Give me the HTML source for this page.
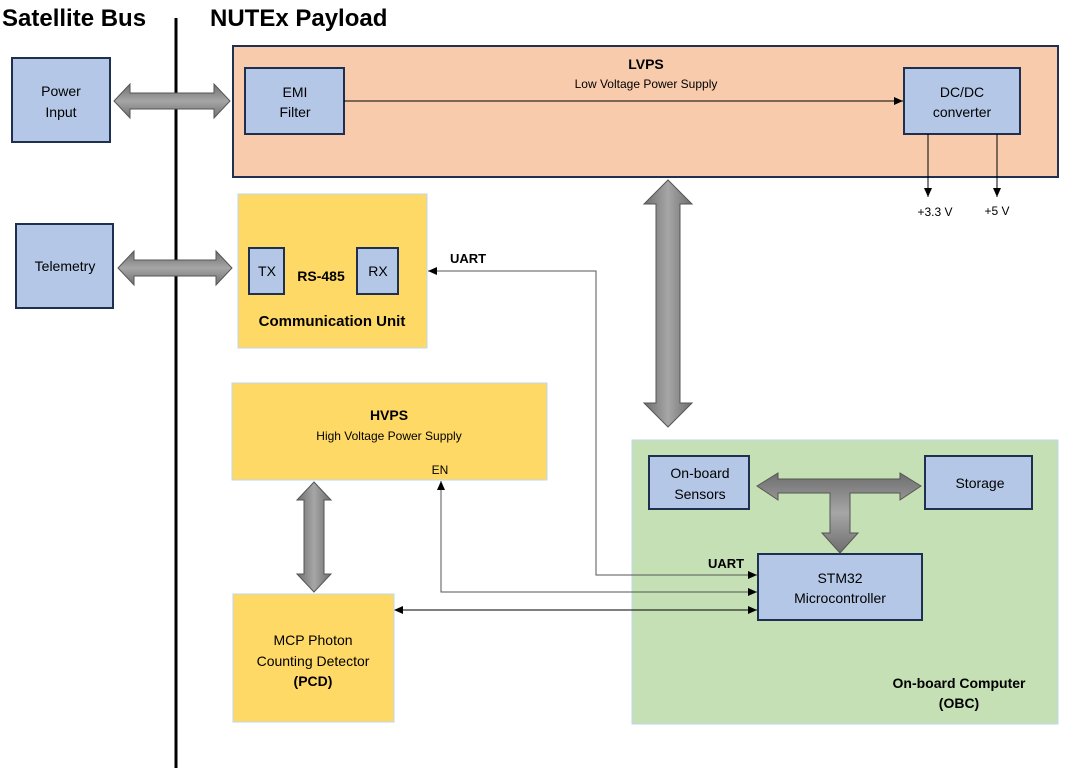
<!DOCTYPE html>
<html><head><meta charset="utf-8"><style>
body{margin:0;background:#fff}
svg{display:block}
text{font-family:"Liberation Sans",sans-serif;fill:#000}
</style></head><body>
<svg width="1070" height="768" viewBox="0 0 1070 768" xmlns="http://www.w3.org/2000/svg">
<defs>
<linearGradient id="gh" x1="0" y1="0" x2="0" y2="1"><stop offset="0" stop-color="#6e6e6e"/><stop offset="0.5" stop-color="#a6a6a6"/><stop offset="1" stop-color="#6e6e6e"/></linearGradient>
<linearGradient id="gv" x1="0" y1="0" x2="1" y2="0"><stop offset="0" stop-color="#6e6e6e"/><stop offset="0.5" stop-color="#a6a6a6"/><stop offset="1" stop-color="#6e6e6e"/></linearGradient>
<marker id="ah" markerWidth="10" markerHeight="10" refX="9" refY="5" orient="auto" markerUnits="userSpaceOnUse"><path d="M0,1 L9,5 L0,9 Z" fill="#000"/></marker>
<marker id="as" markerWidth="10" markerHeight="10" refX="1" refY="5" orient="auto" markerUnits="userSpaceOnUse"><path d="M9,1 L0,5 L9,9 Z" fill="#000"/></marker>
</defs>

<text x="2" y="26" font-size="24" font-weight="bold">Satellite Bus</text>
<text x="210" y="26" font-size="24" font-weight="bold">NUTEx Payload</text>
<line x1="176" y1="18" x2="176" y2="768" stroke="#000" stroke-width="3"/>

<!-- LVPS -->
<rect x="233" y="46" width="825" height="131" fill="#f8cbad" stroke="#203050" stroke-width="2"/>
<text x="646" y="69" font-size="14" font-weight="bold" text-anchor="middle">LVPS</text>
<text x="646" y="88" font-size="12" text-anchor="middle">Low Voltage Power Supply</text>

<!-- Comm -->
<rect x="238" y="194" width="189" height="154" fill="#ffd966" stroke="#bdd7ee" stroke-width="1"/>
<text x="321" y="281" font-size="14" font-weight="bold" text-anchor="middle">RS-485</text>
<text x="332" y="326" font-size="15" font-weight="bold" text-anchor="middle">Communication Unit</text>

<!-- HVPS -->
<rect x="232" y="383" width="315" height="97" fill="#ffd966" stroke="#bdd7ee" stroke-width="1"/>
<text x="389" y="420" font-size="14" font-weight="bold" text-anchor="middle">HVPS</text>
<text x="389" y="440" font-size="12" text-anchor="middle">High Voltage Power Supply</text>
<text x="440" y="474" font-size="12" text-anchor="middle">EN</text>

<!-- PCD -->
<rect x="233" y="594" width="161" height="128" fill="#ffd966" stroke="#bdd7ee" stroke-width="1"/>
<text x="313" y="645" font-size="14" text-anchor="middle">MCP Photon</text>
<text x="313" y="666" font-size="14" text-anchor="middle">Counting Detector</text>
<text x="313" y="686" font-size="14" font-weight="bold" text-anchor="middle">(PCD)</text>

<!-- OBC -->
<rect x="632" y="440" width="426" height="284" fill="#c5e0b4" stroke="#bdd7ee" stroke-width="1"/>
<text x="959" y="688" font-size="14" font-weight="bold" text-anchor="middle">On-board Computer</text>
<text x="959" y="708" font-size="14" font-weight="bold" text-anchor="middle">(OBC)</text>

<!-- blue boxes -->
<g fill="#b4c7e7" stroke="#1f2f4f" stroke-width="2">
<rect x="12" y="58" width="98" height="84"/>
<rect x="16" y="224" width="97" height="84"/>
<rect x="245" y="68" width="99" height="66"/>
<rect x="904" y="68" width="116" height="66"/>
<rect x="249" y="248" width="35" height="46"/>
<rect x="357" y="248" width="41" height="46"/>
<rect x="649" y="456" width="100" height="53"/>
<rect x="925" y="456" width="107" height="53"/>
<rect x="758" y="554" width="164" height="66"/>
</g>
<g font-size="14" text-anchor="middle">
<text x="61" y="96">Power</text><text x="61" y="117">Input</text>
<text x="65" y="271">Telemetry</text>
<text x="295" y="97">EMI</text><text x="295" y="117">Filter</text>
<text x="962" y="97">DC/DC</text><text x="962" y="117">converter</text>
<text x="267" y="276">TX</text>
<text x="378" y="276">RX</text>
<text x="700" y="478">On-board</text><text x="700" y="499">Sensors</text>
<text x="980" y="488">Storage</text>
<text x="840" y="583">STM32</text><text x="840" y="603">Microcontroller</text>
</g>

<!-- thin connectors -->
<g stroke="#000" stroke-width="1" fill="none">
<line x1="344" y1="101" x2="903" y2="101" marker-end="url(#ah)"/>
<line x1="928" y1="134" x2="928" y2="197" marker-end="url(#ah)"/>
<line x1="997" y1="134" x2="997" y2="197" marker-end="url(#ah)"/>
<polyline points="757,575 596,575 596,271 428,271" stroke="#555" marker-end="url(#ah)"/>
<polyline points="757,592 441,592 441,481" stroke="#555" marker-end="url(#ah)"/>
<line x1="395" y1="610" x2="757" y2="610" marker-start="url(#as)" marker-end="url(#ah)"/>
</g>
<path d="M748,571 L757,575 L748,579 Z M748,588 L757,592 L748,596 Z"/>
<text x="935" y="216" font-size="12" text-anchor="middle">+3.3 V</text>
<text x="997" y="215" font-size="12" text-anchor="middle">+5 V</text>
<text x="450" y="263" font-size="13" font-weight="bold">UART</text>
<text x="708" y="568" font-size="13" font-weight="bold">UART</text>

<!-- big arrows -->
<g stroke="#555" stroke-width="1">
<polygon fill="url(#gh)" points="114,101 130,84 130,93 214,93 214,84 230,101 214,118 214,109 130,109 130,118"/>
<polygon fill="url(#gh)" points="118,268 134,251 134,260 216,260 216,251 232,268 216,285 216,276 134,276 134,285"/>
<polygon fill="url(#gv)" points="668,180 692,204 680,204 680,403 692,403 668,427 644,403 656,403 656,204 644,204"/>
<polygon fill="url(#gv)" points="314,482 331,500 324,500 324,574 331,574 314,592 297,574 304,574 304,500 297,500"/>
<polygon fill="url(#gh)" points="757,486 778,473 778,479 900,479 900,473 921,486 900,500 900,493 850,493 850,533 858,533 840,553 822,533 830,533 830,493 778,493 778,500"/>
</g>
</svg>
</body></html>
